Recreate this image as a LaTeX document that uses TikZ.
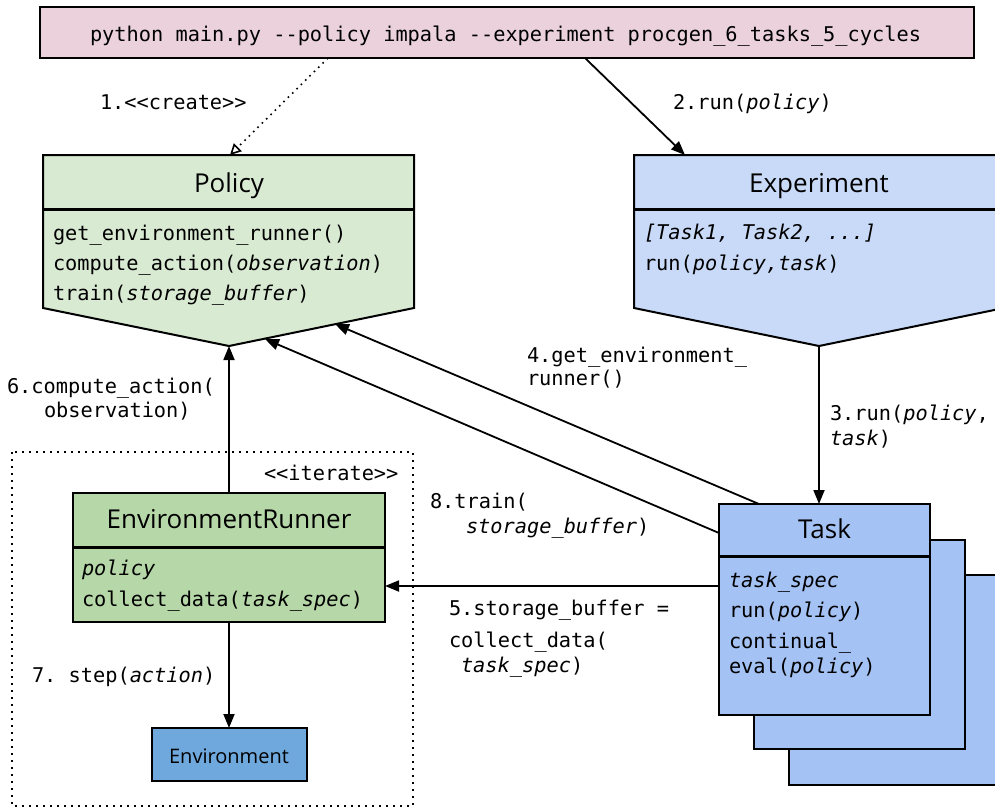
\documentclass[tikz,border=0pt]{standalone}
\usepackage{fontspec}
\setmainfont{Open Sans}
\newfontfamily\mono{DejaVu Sans Mono}
\usetikzlibrary{arrows.meta}
\definecolor{cmdpink}{HTML}{EAD1DC}
\definecolor{polgreen}{HTML}{D9EAD3}
\definecolor{rungreen}{HTML}{B6D7A8}
\definecolor{expblue}{HTML}{C9DAF8}
\definecolor{taskblue}{HTML}{A4C2F4}
\definecolor{envblue}{HTML}{6FA8DC}
\frenchspacing
\begin{document}
\begin{tikzpicture}[x=1pt,y=-1pt,
  every node/.style={inner sep=0pt, outer sep=0pt},
  lbl/.style={anchor=base west, font=\mono\fontsize{20.3}{24}\selectfont},
  ttl/.style={anchor=base, font=\fontsize{26}{30}\selectfont},
  boxst/.style={draw=black, line width=2pt, anchor=north west},
  sepline/.style={line width=3pt},
  arr/.style={line width=1.8pt, -{Triangle[length=14pt,width=11pt]}},
  dotline/.style={line width=2pt, dash pattern=on 2pt off 5pt},
]
\useasboundingbox (0,0) rectangle (995,809);
\clip (0,0) rectangle (995,809);

% command box
\node[boxst, fill=cmdpink, minimum width=934pt, minimum height=51pt] (cmd) at (40,7) {};
\node[lbl] (cmdtxt) at (90,41) {python main.py -{}-policy impala -{}-experiment procgen\_6\_tasks\_5\_cycles};

% Policy
\draw[line width=2pt, fill=polgreen] (43,155) -- (414,155) -- (414,308) -- (229,346) -- (43,308) -- cycle;
\draw[sepline] (43,209) -- (414,209);
\coordinate (poltop) at (230,155);
\coordinate (poltip) at (229,346);
\coordinate (p4) at (335,324);
\coordinate (p8) at (265,339);
\node[ttl] (poltitle) at (229,192) {Policy};
\node[lbl] (pol1) at (53,240) {get\_environment\_runner()};
\node[lbl] (pol2) at (53,270) {compute\_action(\textit{observation})};
\node[lbl] (pol3) at (53,300) {train(\textit{storage\_buffer})};

% Experiment
\draw[line width=2pt, fill=expblue] (634,155) -- (1004,155) -- (1004,308) -- (819,346) -- (634,308) -- cycle;
\draw[sepline] (634,209) -- (1004,209);
\coordinate (exptop) at (685,155);
\coordinate (exptip) at (819,346);
\node[ttl] (exptitle) at (819,192) {Experiment};
\node[lbl] (exp1) at (644,239) {\textit{[Task1, Task2, ...]}};
\node[lbl] (exp2) at (644,270) {run(\textit{policy,task})};

% Task stack
\node[boxst, fill=taskblue, minimum width=211pt, minimum height=210pt] (task3) at (789,575) {};
\node[boxst, fill=taskblue, minimum width=211pt, minimum height=209pt] (task2) at (754,540) {};
\node[boxst, fill=taskblue, minimum width=211pt, minimum height=211pt] (task) at (719,504) {};
\draw[sepline] (719,556) -- (930,556);
\node[ttl] (tasktitle) at (824.5,538) {Task};
\node[lbl] (task1) at (729,587) {\textit{task\_spec}};
\node[lbl] (task2l) at (729,617) {run(\textit{policy})};
\node[lbl] (task3l) at (729,648) {continual\_};
\node[lbl] (task4l) at (729,673) {eval(\textit{policy})};

% iterate box
\draw[dotline] (12,452) rectangle (413,806);
\node[lbl] (iter) at (264,480) {<{}<iterate>{}>};

% EnvironmentRunner
\node[boxst, fill=rungreen, minimum width=312pt, minimum height=129pt] (runner) at (73,493) {};
\draw[sepline] (73,547) -- (385,547);
\node[ttl] (runtitle) at (229,528) {EnvironmentRunner};
\node[lbl] (run1) at (82,575) {\textit{policy}};
\node[lbl] (run2) at (82,606) {collect\_data(\textit{task\_spec})};

% Environment
\node[boxst, fill=envblue, minimum width=155pt, minimum height=53pt] (env) at (151.5,728) {};
\node[anchor=base, font=\fontsize{20}{24}\selectfont] (envtxt) at (229,763) {Environment};

% connectors
\draw[line width=1.6pt, dash pattern=on 1.6pt off 4.5pt, -{Triangle[open,length=11pt,width=11pt,line width=1.6pt]}] ([xshift=-179pt]cmd.south) -- (poltop);
\draw[arr] ([xshift=78pt]cmd.south) -- (exptop);
\draw[arr] (exptip) -- (task.north -| exptip);
\draw[arr] ([xshift=-65.5pt]task.north) -- (p4);
\draw[arr] ([yshift=76.5pt]task.west) -- (p8);
\coordinate (a5) at ([yshift=23.5pt]task.west);
\draw[arr] (a5) -- (runner.east |- a5);
\draw[arr] (runner.north -| poltip) -- (poltip);
\draw[arr] (runner.south -| env.north) -- (env.north);

% labels
\node[lbl] (l1) at (100,109) {1.<{}<create>{}>};
\node[lbl] (l2) at (673,109) {2.run(\textit{policy})};
\node[lbl] (l3a) at (830,420) {3.run(\textit{policy},};
\node[lbl] (l3b) at (830,445) {\textit{task})};
\node[lbl] (l4a) at (527,362) {4.get\_environment\_};
\node[lbl] (l4b) at (527,385) {runner()};
\node[lbl] (l5a) at (449,615) {5.storage\_buffer =};
\node[lbl] (l5b) at (449,647) {collect\_data(};
\node[lbl] (l5c) at (461,672) {\textit{task\_spec})};
\node[lbl] (l6a) at (7,393) {6.compute\_action(};
\node[lbl] (l6b) at (44,417) {observation)};
\node[lbl] (l7) at (32,682) {7. step(\textit{action})};
\node[lbl] (l8a) at (430,508) {8.train(};
\node[lbl] (l8b) at (466,533) {\textit{storage\_buffer})};
\end{tikzpicture}
\end{document}
